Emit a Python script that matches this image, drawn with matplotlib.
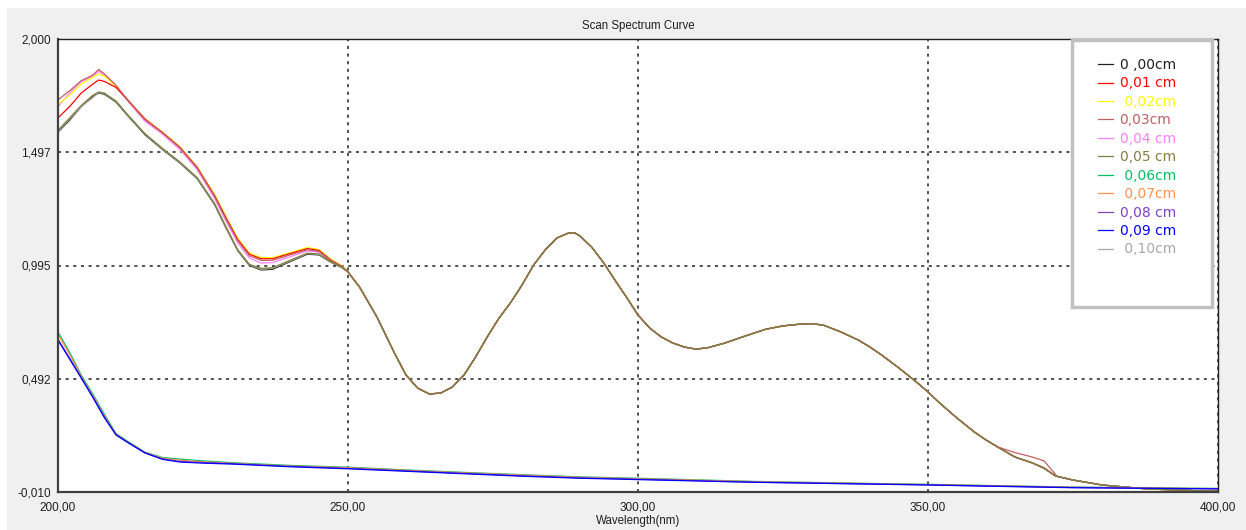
import matplotlib.pyplot as plt
from matplotlib.patches import Rectangle

# wavelengths (nm)
wl_head = [200, 202, 204, 206, 207, 208, 210, 212, 215, 218, 221, 224, 227,
           229, 231, 233, 235, 237, 240, 243, 245, 247, 249]

# 200-249 nm, upper group (each thickness differs a little)
head_000 = [1.587, 1.64, 1.70, 1.745, 1.76, 1.755, 1.72, 1.66, 1.575, 1.51, 1.45, 1.38, 1.265,
            1.16, 1.06, 0.995, 0.975, 0.978, 1.012, 1.045, 1.042, 1.01, 0.985]
head_001 = [1.65, 1.70, 1.76, 1.80, 1.818, 1.812, 1.785, 1.73, 1.645, 1.585, 1.52, 1.43, 1.305,
            1.205, 1.11, 1.045, 1.025, 1.025, 1.048, 1.07, 1.062, 1.02, 0.99]
head_002 = [1.71, 1.75, 1.80, 1.83, 1.845, 1.835, 1.79, 1.73, 1.645, 1.588, 1.522, 1.432, 1.31,
            1.21, 1.115, 1.05, 1.03, 1.03, 1.052, 1.075, 1.066, 1.024, 0.992]
head_003 = [1.73, 1.77, 1.815, 1.84, 1.865, 1.845, 1.795, 1.73, 1.642, 1.585, 1.518, 1.428, 1.302,
            1.20, 1.105, 1.038, 1.018, 1.018, 1.042, 1.065, 1.058, 1.018, 0.99]
head_004 = [1.70, 1.76, 1.81, 1.835, 1.857, 1.84, 1.79, 1.725, 1.635, 1.578, 1.51, 1.42, 1.292,
            1.19, 1.095, 1.028, 1.006, 1.008, 1.034, 1.06, 1.054, 1.015, 0.988]
head_005 = [1.595, 1.65, 1.705, 1.75, 1.765, 1.76, 1.725, 1.665, 1.58, 1.515, 1.455, 1.385, 1.27,
            1.165, 1.065, 1.0, 0.982, 0.985, 1.018, 1.05, 1.046, 1.012, 0.986]
head_010 = [1.59, 1.645, 1.70, 1.74, 1.762, 1.758, 1.722, 1.662, 1.578, 1.512, 1.452, 1.382, 1.268,
            1.162, 1.062, 0.998, 0.978, 0.982, 1.015, 1.048, 1.044, 1.011, 0.986]

# 250-400 nm, upper group curves coincide
wl_tail = [250, 252, 255, 258, 260, 262, 264, 266, 268, 270,
           272, 274, 276, 278, 280, 282, 284, 286, 288, 289,
           290, 292, 294, 296, 298, 300, 302, 304, 306, 308,
           310, 312, 315, 318, 320, 322, 325, 328, 330, 332,
           335, 338, 340, 342, 345, 348, 350, 352, 355, 358,
           360, 362, 365, 368, 370, 372, 375, 378, 380, 384,
           388, 392, 396, 400]
tail = [0.966, 0.899, 0.766, 0.607, 0.509, 0.451, 0.425, 0.429, 0.456, 0.509,
        0.589, 0.678, 0.76, 0.829, 0.908, 0.997, 1.064, 1.117, 1.139, 1.141,
        1.126, 1.077, 1.010, 0.931, 0.855, 0.775, 0.718, 0.678, 0.651, 0.633,
        0.624, 0.630, 0.651, 0.678, 0.695, 0.712, 0.727, 0.735, 0.737, 0.730,
        0.700, 0.664, 0.633, 0.598, 0.540, 0.478, 0.434, 0.385, 0.318, 0.256,
        0.221, 0.190, 0.145, 0.119, 0.096, 0.061, 0.043, 0.030, 0.021, 0.012,
        0.003, 0.0, -0.004, -0.006]
# small bump on the 0,03 cm curve
wl_bump = [362, 365, 368, 370, 372]
bump_003 = [0.19, 0.165, 0.145, 0.128, 0.068]

# lower group
wl_low = [200, 202, 204, 206, 208, 210, 212, 215, 218, 221, 225, 230, 240,
          250, 260, 270, 280, 290, 300, 320, 340, 350, 360, 375, 390, 400]
low_006 = [0.700, 0.61, 0.509, 0.425, 0.335, 0.25, 0.215, 0.167, 0.143, 0.136, 0.128, 0.12, 0.108,
           0.10, 0.088, 0.077, 0.067, 0.057, 0.051, 0.037, 0.028, 0.024, 0.019, 0.012, 0.008, 0.006]
low_007 = [0.690, 0.60, 0.503, 0.418, 0.328, 0.247, 0.212, 0.165, 0.14, 0.131, 0.124, 0.117, 0.105,
           0.098, 0.086, 0.075, 0.065, 0.055, 0.049, 0.036, 0.027, 0.023, 0.018, 0.011, 0.007, 0.005]
low_008 = [0.668, 0.584, 0.499, 0.413, 0.323, 0.245, 0.211, 0.164, 0.137, 0.126, 0.121, 0.116, 0.104,
           0.095, 0.084, 0.073, 0.062, 0.053, 0.047, 0.034, 0.026, 0.022, 0.017, 0.010, 0.006, 0.004]
low_009 = [0.664, 0.58, 0.496, 0.41, 0.32, 0.243, 0.21, 0.163, 0.135, 0.123, 0.118, 0.114, 0.102,
           0.093, 0.082, 0.071, 0.060, 0.051, 0.045, 0.033, 0.025, 0.021, 0.016, 0.009, 0.006, 0.004]

labels = ['0 ,00cm', '0,01 cm', ' 0,02cm', '0,03cm', '0,04 cm', '0,05 cm',
          ' 0,06cm', ' 0,07cm', '0,08 cm', '0,09 cm', ' 0,10cm']
colors = ['#202020', '#ff0000', '#ffff00', '#c06060', '#ff80ff', '#808040',
          '#00c060', '#ff9050', '#8040c0', '#0000ff', '#a8a8a8']

yticks = [-0.010, 0.492, 0.995, 1.497, 2.000]
xticks = [200, 250, 300, 350, 400]

plt.rcParams['font.family'] = ['Liberation Sans', 'DejaVu Sans']

fig = plt.figure(figsize=(12.46, 5.30), dpi=100)
fig.patch.set_facecolor('white')
fig.patches.append(Rectangle((7 / 1246, 0), 1, 1 - 8 / 530, transform=fig.transFigure,
                             facecolor='#f0f0f0', edgecolor='none', zorder=-10))
ax = fig.add_axes([58 / 1246, 1 - 492 / 530, 1160 / 1246, 453 / 530])
ax.set_facecolor('white')

lw = 0.9
# drawing order: later curves sit on top
series = {
    4: (wl_head + wl_tail, head_004 + tail),
    2: (wl_head + wl_tail, head_002 + tail),
    1: (wl_head + wl_tail, head_001 + tail),
    0: (wl_head + wl_tail, head_000 + tail),
    10: (wl_head + wl_tail, head_010 + tail),
    3: (wl_head + wl_tail, head_003 + tail),
    5: (wl_head + wl_tail, head_005 + tail),
    6: (wl_low, low_006),
    7: (wl_low, low_007),
    8: (wl_low, low_008),
    9: (wl_low, low_009),
}
handles = {}
for i, (xs, ys) in series.items():
    ln, = ax.plot(xs, ys, color=colors[i], lw=lw, label=labels[i])
    handles[i] = ln
ax.plot(wl_bump, bump_003, color=colors[3], lw=lw)

ax.set_xlim(200, 400)
ax.set_ylim(-0.010, 2.000)
ax.set_xticks(xticks)
ax.set_xticklabels([('%.2f' % v).replace('.', ',') for v in xticks])
ax.set_yticks(yticks)
ax.set_yticklabels([('%.3f' % v).replace('.', ',') for v in yticks])
ax.tick_params(length=0, labelsize=8.5, colors='#202020')
ax.tick_params(axis='x', pad=7)
ax.tick_params(axis='y', pad=5)
ax.grid(True, color='#202020', linestyle=(0, (2, 3)), lw=1.1)

for s in ['left', 'bottom']:
    ax.spines[s].set_linewidth(1.6)
    ax.spines[s].set_color('#404040')
for s in ['top', 'right']:
    ax.spines[s].set_linewidth(1.0)
    ax.spines[s].set_color('#202020')

ax.set_title('Scan Spectrum Curve', fontsize=8.3, pad=7, color='#202020')
ax.set_xlabel('Wavelength(nm)', fontsize=8.3, labelpad=1, color='#202020')

# legend box
fig.patches.append(Rectangle((1072 / 1246, 1 - 307 / 530), 140 / 1246, 267 / 530,
                             transform=fig.transFigure, facecolor='white',
                             edgecolor='#c0c0c0', lw=2.5, zorder=3))
leg = fig.legend([handles[i] for i in range(11)], labels, loc='upper left',
                 bbox_to_anchor=(1098 / 1246, 1 - 58 / 530), frameon=False,
                 handlelength=1.1, handletextpad=0.45,
                 labelspacing=0.32, borderaxespad=0, borderpad=0,
                 prop={'family': 'DejaVu Sans', 'size': 10})
leg.set_zorder(5)
for t, c in zip(leg.get_texts(), colors):
    t.set_color(c)

fig.savefig('out.png', dpi=100, facecolor=fig.get_facecolor())
